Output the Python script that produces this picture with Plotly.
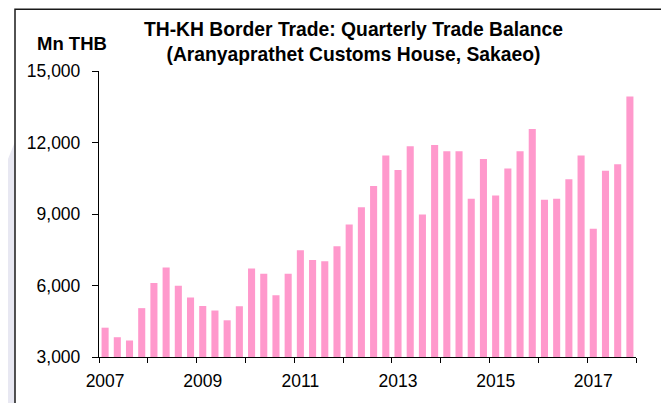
import plotly.graph_objects as go

# ---- data ----
years = list(range(2007, 2018))
quarters = [f"{y}Q{q}" for y in years for q in range(1, 5)]
trade_balance = [
    4230, 3830, 3690, 5050,
    6110, 6760, 5990, 5500,
    5140, 4950, 4540, 5130,
    6710, 6490, 5590, 6490,
    7480, 7070, 7020, 7650,
    8560, 9280, 10180, 11450,
    10850, 11840, 8980, 11890,
    11630, 11630, 9640, 11310,
    9780, 10910, 11630, 12570,
    9600, 9640, 10460, 11450,
    8380, 10810, 11090, 13930,
]
y_ticks = [3000, 6000, 9000, 12000, 15000]
y_tick_labels = ["3,000", "6,000", "9,000", "12,000", "15,000"]
label_years = [str(y) for y in years[::2]]

title_line1 = "TH-KH Border Trade: Quarterly Trade Balance"
title_line2 = "(Aranyaprathet Customs House, Sakaeo)"
unit_label = "Mn THB"

# ---- layout geometry (page has an 8px body margin) ----
OFF = 8
W, H = 669 - OFF, 403 - OFF
ML, MR, MT, MB = 99 - OFF, 669 - 636 - OFF + OFF, 71 - OFF, 403 - 360 - OFF + OFF
ML, MR, MT, MB = 91, 33, 63, 43
PW, PH = W - ML - MR, H - MT - MB


def px(x):
    return (x - OFF - ML) / PW


def py(y):
    return (H - MB - (y - OFF)) / PH


pos = list(range(len(quarters)))
label_pos = [pos[quarters.index(f"{y}Q1")] for y in label_years]
boundary_pos = [p - 0.5 for p in pos[::4]] + [pos[-1] + 0.5]

fig = go.Figure(
    go.Bar(
        x=pos,
        y=trade_balance,
        marker=dict(color="#FF99CC", line=dict(width=0)),
        width=0.58,
        hovertext=quarters,
    )
)

font_family = "Liberation Sans, Arial, sans-serif"
lav = "#E8E8F2"

shapes = [
    # watermark fragment outside the frame (left strip)
    dict(type="path", xref="paper", yref="paper", layer="below",
         path=f"M {px(8)},{py(160)} L {px(16)},{py(140)} L {px(16)},{py(410)} L {px(8)},{py(410)} Z",
         fillcolor=lav, line=dict(width=0)),
    # chart frame
    dict(type="rect", xref="paper", yref="paper", layer="below",
         x0=px(15), x1=px(662), y0=py(415), y1=py(8.5),
         fillcolor="white", line=dict(color="#1a1a1a", width=1.5)),
]

fig.update_layout(
    width=W, height=H,
    margin=dict(l=ML, r=MR, t=MT, b=MB, pad=0),
    paper_bgcolor="white",
    plot_bgcolor="rgba(0,0,0,0)",
    showlegend=False,
    shapes=shapes,
    font=dict(family=font_family, color="black", size=17),
    xaxis=dict(
        range=[boundary_pos[0], boundary_pos[-1]],
        tickmode="array", tickvals=label_pos, ticktext=label_years,
        ticks="", showgrid=False, zeroline=False,
        showline=True, linecolor="black", linewidth=1.3,
        tickfont=dict(size=17.5, family=font_family),
        ticklabelstandoff=8,
        minor=dict(tickmode="array", tickvals=boundary_pos, ticks="outside",
                   ticklen=5, tickcolor="black", tickwidth=1.3, showgrid=False),
        fixedrange=True,
    ),
    yaxis=dict(
        range=[y_ticks[0], y_ticks[-1]],
        tickmode="array", tickvals=y_ticks, ticktext=y_tick_labels,
        ticks="outside", ticklen=6, tickcolor="black", tickwidth=1.3,
        showgrid=False, zeroline=False,
        showline=True, linecolor="black", linewidth=1.3,
        tickfont=dict(size=17.5, family=font_family),
        ticklabelstandoff=8,
        fixedrange=True,
    ),
    annotations=[
        dict(text=f"<b>{title_line1}</b><br><b>{title_line2}</b>",
             xref="paper", yref="paper", x=px(353), y=py(42),
             xanchor="center", yanchor="middle", showarrow=False,
             font=dict(size=19.3, family=font_family)),
        dict(text=f"<b>{unit_label}</b>",
             xref="paper", yref="paper", x=px(72), y=py(43),
             xanchor="center", yanchor="middle", showarrow=False,
             font=dict(size=18.5, family=font_family)),
    ],
)

fig.write_html("out.html")
